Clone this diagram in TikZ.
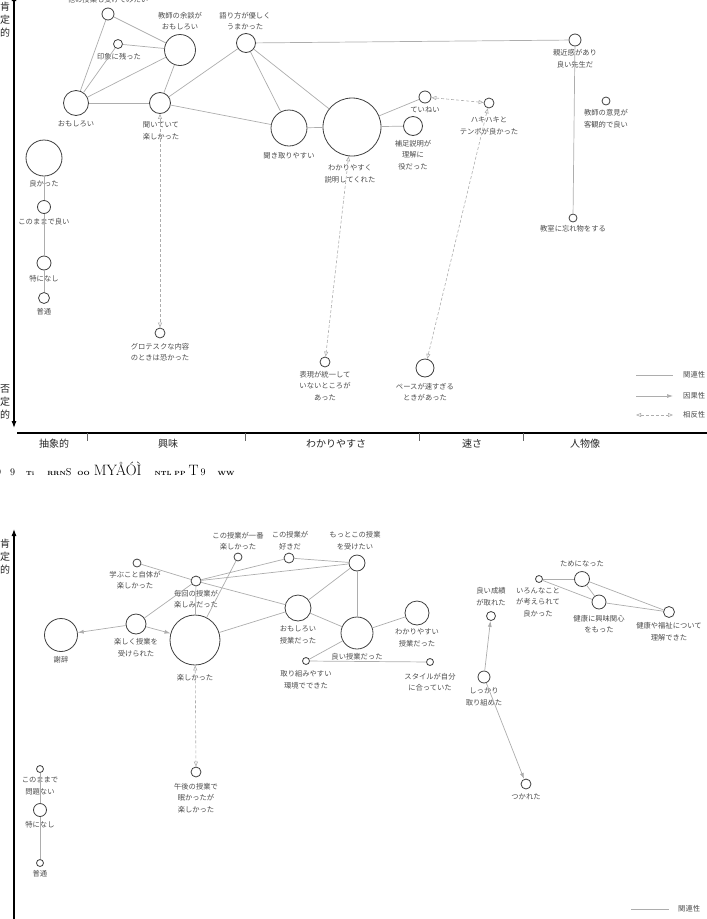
\documentclass[tikz,border=0pt]{standalone}
\usepackage{fontspec}
\newfontfamily\cjk{Noto Sans CJK JP}
\usetikzlibrary{arrows.meta}
\definecolor{edgegray}{gray}{0.68}
\definecolor{txtgray}{gray}{0.3}
\tikzset{
  dot/.style={circle, draw=black!75, line width=0.8pt, fill=white, inner sep=0pt, minimum size=#1},
  lbl/.style={font=\cjk\fontsize{7.3}{11.6}\selectfont, text=txtgray, align=center, inner sep=0pt},
  axlbl/.style={font=\cjk\fontsize{10}{13}\selectfont, text=black!85, align=center, inner sep=0pt},
  rel/.style={draw=edgegray, line width=0.7pt},
  cause/.style={rel, -{Latex[length=6pt,width=4pt]}},
  oppo/.style={draw=edgegray, line width=0.6pt, dash pattern=on 3pt off 2pt,
    {Triangle[open,length=5pt,width=4pt]}-{Triangle[open,length=5pt,width=4pt]}},
  axis/.style={line width=1.1pt, draw=black},
  tick/.style={line width=0.9pt, draw=black!60}
}
\begin{document}
\begin{tikzpicture}[x=1pt,y=-1pt]
\useasboundingbox (0,0) rectangle (707,919);

% upper chart: axes
\coordinate (ax1t) at (14,-6);
\coordinate (ax1b) at (14,428);
\coordinate (hx1l) at (17,433);
\coordinate (hx1r) at (710,433);
\draw[axis, {Latex[length=7pt,width=5pt]}-{Latex[length=7pt,width=5pt]}] (ax1t) -- (ax1b);
\draw[axis] (hx1l) -- (hx1r);
\foreach \tx in {87,245,419,523}
  \draw[tick] (\tx,433) -- (\tx,441);
\node[axlbl] (pos1) at (5,20) {肯\\定\\的};
\node[axlbl] (neg1) at (5,402) {否\\定\\的};
\node[axlbl] (cat1) at (54,444) {抽象的};
\node[axlbl] (cat2) at (168,444) {興味};
\node[axlbl] (cat3) at (336,444) {わかりやすさ};
\node[axlbl] (cat4) at (472,444) {速さ};
\node[axlbl] (cat5) at (585,444) {人物像};

% upper chart: nodes
\node[dot=12] (other) at (108,14) {};
\node[dot=9] (inshou) at (118,44) {};
\node[dot=31] (yodan) at (180,50) {};
\node[dot=19] (katari) at (246,43) {};
\node[dot=25] (omo) at (76,103) {};
\node[dot=21] (kiite) at (160,103) {};
\node[dot=36] (kikitori) at (289,128) {};
\node[dot=58] (wakari) at (352,127) {};
\node[dot=12] (teinei) at (425,97) {};
\node[dot=19] (hosoku) at (413,126) {};
\node[dot=10] (haki) at (489,103) {};
\node[dot=12] (shinkin) at (575,40) {};
\node[dot=8] (iken) at (606,101) {};
\node[dot=8] (wasure) at (573,218) {};
\node[dot=36] (yokatta) at (44,158) {};
\node[dot=13] (mama) at (44,207) {};
\node[dot=14] (nashi) at (44,263) {};
\node[dot=11] (futsuu) at (44,298) {};
\node[dot=10] (guro) at (160,333) {};
\node[dot=10] (hyogen) at (325,362) {};
\node[dot=18] (pace) at (425,368) {};

\node[lbl] (other-t) at (108,0) {他の授業も受けてみたい};
\node[lbl] (inshou-t) at (119,57) {印象に残った};
\node[lbl] (yodan-t) at (180,21) {教師の余談が\\おもしろい};
\node[lbl] (katari-t) at (245,21) {語り方が優しく\\うまかった};
\node[lbl] (omo-t) at (76,124) {おもしろい};
\node[lbl] (kiite-t) at (161,131) {聞いていて\\楽しかった};
\node[lbl] (kikitori-t) at (289,156) {聞き取りやすい};
\node[lbl] (wakari-t) at (350,174) {わかりやすく\\説明してくれた};
\node[lbl] (teinei-t) at (425,110) {ていねい};
\node[lbl] (hosoku-t) at (413,155) {補足説明が\\理解に\\役だった};
\node[lbl] (haki-t) at (489,126) {ハキハキと\\テンポが良かった};
\node[lbl] (shinkin-t) at (575,59) {親近感があり\\良い先生だ};
\node[lbl] (iken-t) at (606,119) {教師の意見が\\客観的で良い};
\node[lbl] (wasure-t) at (573,229) {教室に忘れ物をする};
\node[lbl] (yokatta-t) at (44,184) {良かった};
\node[lbl] (mama-t) at (44,222) {このままで良い};
\node[lbl] (nashi-t) at (44,279) {特になし};
\node[lbl] (futsuu-t) at (44,312) {普通};
\node[lbl] (guro-t) at (160,352) {グロテスクな内容\\のときは恐かった};
\node[lbl] (hyogen-t) at (325,386) {表現が統一して\\いないところが\\あった};
\node[lbl] (pace-t) at (425,392) {ペースが速すぎる\\ときがあった};

% upper chart: links
\draw[rel] (other) -- (yodan);
\draw[rel] (other) -- (omo);
\draw[rel] (inshou) -- (yodan);
\draw[rel] (inshou) -- (omo);
\draw[rel] (omo) -- (yodan);
\draw[rel] (omo) -- (kiite);
\draw[rel] (kiite) -- (yodan);
\draw[rel] (kiite) -- (katari);
\draw[rel] (kiite) -- (kikitori);
\draw[rel] (katari) -- (kikitori);
\draw[rel] (katari) -- (wakari);
\draw[rel] (katari) -- (shinkin);
\draw[rel] (kikitori) -- (wakari);
\draw[rel] (wakari) -- (teinei);
\draw[rel] (wakari) -- (hosoku);
\draw[rel] (shinkin) -- (wasure);
\draw[rel] (yokatta) -- (mama);
\draw[rel] (mama) -- (nashi);
\draw[rel] (nashi) -- (futsuu);
\draw[oppo] (kiite) -- (guro);
\draw[oppo] (wakari) -- (hyogen);
\draw[oppo] (teinei) -- (haki);
\draw[oppo] (haki) -- (pace);

% upper chart: legend
\coordinate (lg1a) at (636,375);
\coordinate (lg1b) at (673,375);
\coordinate (lg2a) at (636,396);
\coordinate (lg2b) at (673,396);
\coordinate (lg3a) at (636,415);
\coordinate (lg3b) at (673,415);
\draw[rel] (lg1a) -- (lg1b);
\draw[cause] (lg2a) -- (lg2b);
\draw[oppo] (lg3a) -- (lg3b);
\node[lbl, anchor=west] (lg1) at (683,375) {関連性};
\node[lbl, anchor=west] (lg2) at (683,396) {因果性};
\node[lbl, anchor=west] (lg3) at (683,415) {相反性};

% broken caption line
\node[anchor=west, inner sep=0pt] (cap) at (-4,469) {\fontsize{10}{10}\selectfont
  9\hspace{9pt}9\hspace{11pt}{\fontsize{6}{6}\selectfont\bfseries Ti}\hspace{13pt}{\fontsize{6}{6}\selectfont\bfseries RRN}S\hspace{6pt}{\fontsize{6}{6}\selectfont\bfseries OO}\hspace{4pt}{\fontsize{15}{15}\selectfont MYÅÓÌ}\hspace{13pt}{\fontsize{6}{6}\selectfont\bfseries NTL PP}\hspace{3pt}{\fontsize{15}{15}\selectfont T}\hspace{2pt}9\hspace{12pt}{\fontsize{6}{6}\selectfont\bfseries WW}};

% lower chart: axis
\coordinate (ax2t) at (14,529);
\coordinate (ax2b) at (14,922);
\draw[axis, -{Latex[length=7pt,width=5pt]}] (ax2b) -- (ax2t);
\node[axlbl] (pos2) at (5,557) {肯\\定\\的};

% lower chart: nodes
\node[dot=8] (manabu) at (137,563) {};
\node[dot=8] (ichiban) at (238,557) {};
\node[dot=10] (suki) at (289,558) {};
\node[dot=16] (motto) at (357,563) {};
\node[dot=10] (maikai) at (196,581) {};
\node[dot=20] (tanoshiku) at (136,624) {};
\node[dot=33] (shaji) at (61,635) {};
\node[dot=50] (tanoshi) at (195,640) {};
\node[dot=26] (omojugyo) at (298,608) {};
\node[dot=32] (yoi) at (357,633) {};
\node[dot=24] (wakariyasui) at (417,613) {};
\node[dot=7] (torikumi) at (306,661) {};
\node[dot=7] (style) at (430,662) {};
\node[dot=9] (seiseki) at (491,616) {};
\node[dot=7] (ironna) at (539,579) {};
\node[dot=15] (tame) at (582,579) {};
\node[dot=14] (kenkou) at (599,602) {};
\node[dot=11] (fukushi) at (669,612) {};
\node[dot=12] (shikkari) at (484,677) {};
\node[dot=10] (tsukare) at (526,784) {};
\node[dot=10] (gogo) at (196,772) {};
\node[dot=7] (mondai) at (40,769) {};
\node[dot=13] (nashi2) at (40,810) {};
\node[dot=7] (futsuu2) at (40,863) {};

\node[lbl] (manabu-t) at (135,580) {学ぶこと自体が\\楽しかった};
\node[lbl] (ichiban-t) at (238,541) {この授業が一番\\楽しかった};
\node[lbl] (suki-t) at (290,541) {この授業が\\好きだ};
\node[lbl] (motto-t) at (355,541) {もっとこの授業\\を受けたい};
\node[lbl] (maikai-t) at (196,599) {毎回の授業が\\楽しみだった};
\node[lbl] (tanoshiku-t) at (136,648) {楽しく授業を\\受けられた};
\node[lbl] (shaji-t) at (61,660) {謝辞};
\node[lbl] (tanoshi-t) at (195,678) {楽しかった};
\node[lbl] (omojugyo-t) at (298,635) {おもしろい\\授業だった};
\node[lbl] (yoi-t) at (357,657) {良い授業だった};
\node[lbl] (wakariyasui-t) at (417,638) {わかりやすい\\授業だった};
\node[lbl] (torikumi-t) at (306,680) {取り組みやすい\\環境でできた};
\node[lbl] (style-t) at (430,682) {スタイルが自分\\に合っていた};
\node[lbl] (seiseki-t) at (491,597) {良い成績\\が取れた};
\node[lbl] (ironna-t) at (538,602) {いろんなこと\\が考えられて\\良かった};
\node[lbl] (tame-t) at (582,564) {ためになった};
\node[lbl] (kenkou-t) at (599,624) {健康に興味関心\\をもった};
\node[lbl] (fukushi-t) at (669,632) {健康や福祉について\\理解できた};
\node[lbl] (shikkari-t) at (484,697) {しっかり\\取り組めた};
\node[lbl] (tsukare-t) at (526,797) {つかれた};
\node[lbl] (gogo-t) at (196,798) {午後の授業で\\眠かったが\\楽しかった};
\node[lbl] (mondai-t) at (40,786) {このままで\\問題ない};
\node[lbl] (nashi2-t) at (40,825) {特になし};
\node[lbl] (futsuu2-t) at (40,874) {普通};

% lower chart: links
\draw[rel] (manabu) -- (maikai);
\draw[rel] (maikai) -- (suki);
\draw[rel] (maikai) -- (motto);
\draw[rel] (maikai) -- (omojugyo);
\draw[rel] (maikai) -- (tanoshiku);
\draw[rel] (maikai) -- (tanoshi);
\draw[rel] (tanoshi) -- (ichiban);
\draw[rel] (tanoshi) -- (omojugyo);
\draw[rel] (suki) -- (motto);
\draw[rel] (omojugyo) -- (motto);
\draw[rel] (omojugyo) -- (yoi);
\draw[rel] (motto) -- (yoi);
\draw[rel] (yoi) -- (wakariyasui);
\draw[rel] (yoi) -- (torikumi);
\draw[rel] (torikumi) -- (style);
\draw[rel] (ironna) -- (tame);
\draw[rel] (ironna) -- (kenkou);
\draw[rel] (tame) -- (kenkou);
\draw[rel] (tame) -- (fukushi);
\draw[rel] (kenkou) -- (fukushi);
\draw[rel] (mondai) -- (nashi2);
\draw[rel] (nashi2) -- (futsuu2);
\draw[cause] (tanoshiku) -- (shaji);
\draw[cause] (tanoshiku) -- (tanoshi);
\draw[cause] (shikkari) -- (seiseki);
\draw[cause] (shikkari) -- (tsukare);
\draw[oppo] (tanoshi) -- (gogo);

% lower chart: legend
\coordinate (lg4a) at (631,909);
\coordinate (lg4b) at (669,909);
\draw[rel] (lg4a) -- (lg4b);
\node[lbl, anchor=west] (lg4) at (678,909) {関連性};
\end{tikzpicture}
\end{document}
